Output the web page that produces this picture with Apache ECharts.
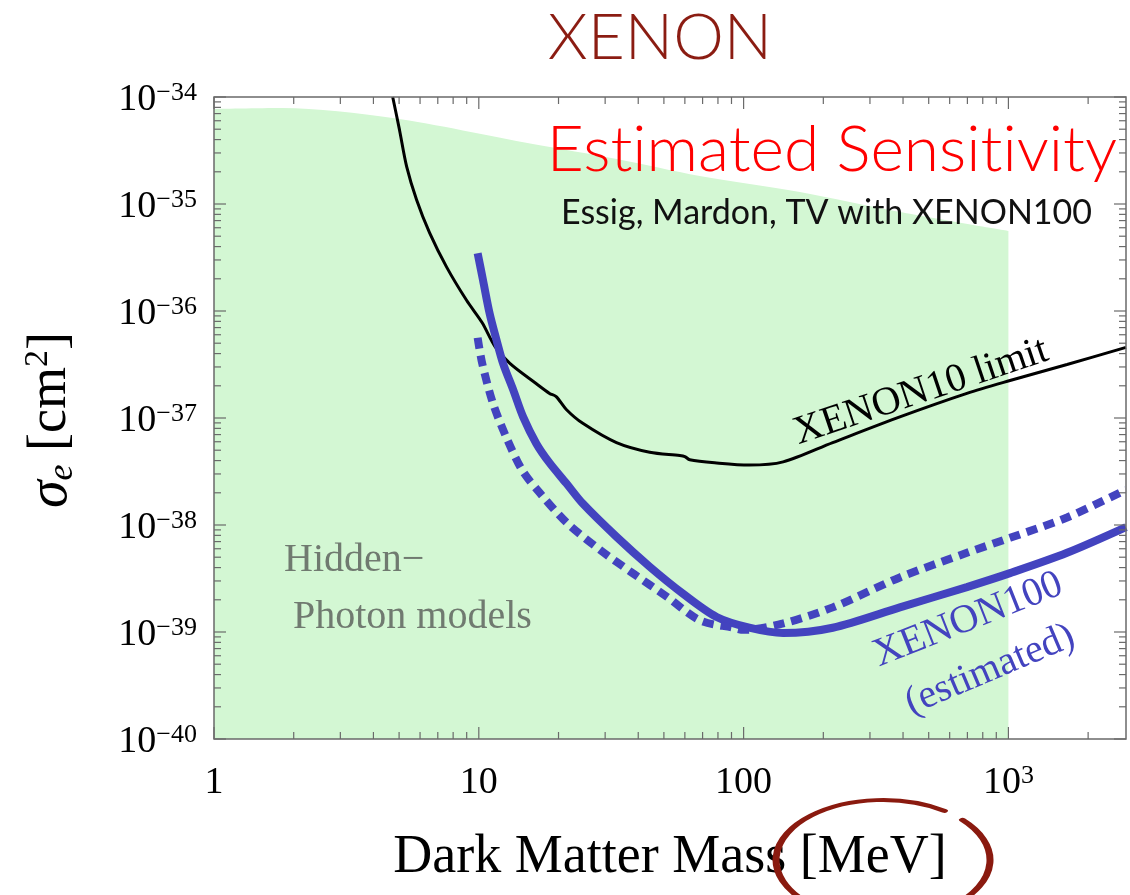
<!DOCTYPE html>
<html>
<head>
<meta charset="utf-8">
<script src="https://cdn.jsdelivr.net/npm/echarts@6.0.0/dist/echarts.min.js"></script>
<style>
  html, body { margin: 0; padding: 0; background: #ffffff; }
  #chart { width: 1130px; height: 895px; }
</style>
</head>
<body>
<div id="chart"></div>
<script>
// Axis ranges: dark-matter mass (MeV) and electron cross-section sigma_e (cm^2)
const massMin = 1;
const massMax = 2780;
const sigmaMin = 1e-40;
const sigmaMax = 1e-34;
// a hair of padding so the end decades survive floating-point log rounding
const sigmaAxisMin = 0.99999e-40;
const sigmaAxisMax = 1.00001e-34;

// Tick labels
const massTickValues = [1, 10, 100, 1000];
const massTickLabels = ['{n|1}', '{n|10}', '{n|100}', '{n|10}{s|3}'];
const sigmaTickExps = [-40, -39, -38, -37, -36, -35, -34];
const sigmaTickLabels = ['{n|10}{s|\u221240}', '{n|10}{s|\u221239}', '{n|10}{s|\u221238}',
  '{n|10}{s|\u221237}', '{n|10}{s|\u221236}', '{n|10}{s|\u221235}', '{n|10}{s|\u221234}'];

// Hidden-photon model region (upper edge), log10 of sigma_e
const hiddenMass = [1, 1.81, 4.73, 16.0, 33.2, 68.3, 163, 389, 1000];
const hiddenExp = [-34.112, -34.103, -34.196, -34.439, -34.579, -34.738, -34.888, -35.075, -35.252];

// XENON10 limit
const xenon10Mass = [4.73, 5.02, 5.34, 5.82, 6.52, 7.56, 8.99, 10.3, 11.5, 13.1, 16.5, 18.5, 19.6,
  21.4, 24.7, 33.1, 44.2, 57.4, 60, 62.6, 79.1, 105, 141, 217, 389, 697, 1014, 1665, 2780];
const xenon10Exp = [-34.00, -34.31, -34.65, -34.96, -35.27, -35.59, -35.90, -36.11, -36.33, -36.49,
  -36.68, -36.77, -36.80, -36.92, -37.05, -37.23, -37.32, -37.35, -37.36, -37.39, -37.42, -37.44,
  -37.41, -37.23, -36.99, -36.77, -36.65, -36.50, -36.34];

// XENON100 estimated sensitivity (solid)
const xenon100Mass = [9.9, 10.37, 10.98, 11.66, 12.35, 13.5, 14.7, 16.5, 18.5, 21.4, 24.7, 33.1,
  44.2, 58.9, 79.1, 105, 141, 217, 389, 697, 1014, 1665, 2780];
const xenon100Exp = [-35.46, -35.71, -36.02, -36.27, -36.49, -36.74, -36.99, -37.24, -37.42, -37.61,
  -37.80, -38.11, -38.39, -38.64, -38.86, -38.96, -39.01, -38.96, -38.77, -38.58, -38.45, -38.26, -38.02];

// XENON100 estimated sensitivity (dashed)
const xenon100bMass = [9.9, 10.3, 11.3, 12.7, 14.6, 17.0, 21.5, 28.6, 38.1, 51.3, 68.3, 91, 100,
  141, 217, 389, 697, 1014, 1665, 2780];
const xenon100bExp = [-36.25, -36.49, -36.86, -37.18, -37.49, -37.70, -37.98, -38.23, -38.45, -38.67,
  -38.89, -38.96, -38.98, -38.92, -38.77, -38.49, -38.26, -38.12, -37.93, -37.67];

const pairs = (xs, es) => xs.map((m, i) => [m, Math.pow(10, es[i])]);

const BLUE = '#4343bf';
const FRAME = '#6a6a6a';
const SERIF = '"Liberation Serif", "Times New Roman", serif';
const SANS = 'Lato, "Open Sans", sans-serif';
const DEG = Math.PI / 180;

// Log-axis tick marks (2..9 per decade) on all four sides plus the frame
const tickData = [];
for (let d = 0; d <= 3; d++) {
  for (let k = 1; k <= 9; k++) {
    const v = k * Math.pow(10, d);
    if (v <= massMax) tickData.push([v, sigmaMin, 0, k === 1 ? 1 : 0]);
  }
}
for (let d = -40; d < -34; d++) {
  for (let k = 1; k <= 9; k++) tickData.push([massMin, k * Math.pow(10, d), 1, k === 1 ? 1 : 0]);
}
tickData.push([massMin, sigmaMax, 1, 1]);
tickData.push([massMin, sigmaMin, 2, 0]);

function renderTicks(params, api) {
  const cs = params.coordSys;
  const kind = api.value(2);
  const len = api.value(3) ? 12 : 7;
  const st = { stroke: FRAME, lineWidth: 1.2 };
  if (kind === 2) {
    return { type: 'rect', shape: { x: cs.x, y: cs.y, width: cs.width, height: cs.height },
      style: { stroke: FRAME, lineWidth: 1.5, fill: 'none' } };
  }
  const p = api.coord([api.value(0), api.value(1)]);
  if (kind === 0) {
    return { type: 'group', children: [
      { type: 'line', shape: { x1: p[0], y1: cs.y + cs.height, x2: p[0], y2: cs.y + cs.height - len }, style: st },
      { type: 'line', shape: { x1: p[0], y1: cs.y, x2: p[0], y2: cs.y + len }, style: st }
    ] };
  }
  return { type: 'group', children: [
    { type: 'line', shape: { x1: cs.x, y1: p[1], x2: cs.x + len, y2: p[1] }, style: st },
    { type: 'line', shape: { x1: cs.x + cs.width, y1: p[1], x2: cs.x + cs.width - len, y2: p[1] }, style: st }
  ] };
}

function nearLog(v, t) { return Math.abs(Math.log10(v) - Math.log10(t)) < 1e-4; }

const chart = echarts.init(document.getElementById('chart'), null, { renderer: 'canvas' });

chart.setOption({
  animation: false,
  backgroundColor: '#ffffff',
  grid: { left: 214, right: 4, top: 97, bottom: 156, containLabel: false, outerBoundsMode: 'none' },
  xAxis: {
    type: 'log', logBase: 10, min: massMin, max: massMax,
    axisLine: { show: false }, axisTick: { show: false }, splitLine: { show: false },
    axisLabel: {
      margin: 24, hideOverlap: false, showMinLabel: true, showMaxLabel: true,
      formatter: v => { const i = massTickValues.findIndex(t => nearLog(v, t)); return i < 0 ? '' : massTickLabels[i]; },
      rich: {
        n: { fontFamily: SERIF, fontSize: 38, lineHeight: 40, color: '#000' },
        s: { fontFamily: SERIF, fontSize: 26, lineHeight: 24, verticalAlign: 'top', color: '#000' }
      }
    },
    name: 'Dark Matter Mass [MeV]', nameLocation: 'middle', nameGap: 92,
    nameTextStyle: { fontFamily: SERIF, fontSize: 54, color: '#000' }
  },
  yAxis: {
    type: 'log', logBase: 10, min: sigmaAxisMin, max: sigmaAxisMax,
    axisLine: { show: false }, axisTick: { show: false }, splitLine: { show: false },
    axisLabel: {
      margin: 17, hideOverlap: false, showMinLabel: true, showMaxLabel: true, padding: [6, 0, 0, 0],
      formatter: v => { const i = sigmaTickExps.findIndex(e => Math.abs(Math.log10(v) - e) < 1e-4); return i < 0 ? '' : sigmaTickLabels[i]; },
      rich: {
        n: { fontFamily: SERIF, fontSize: 38, lineHeight: 40, color: '#000' },
        s: { fontFamily: SERIF, fontSize: 26, lineHeight: 24, verticalAlign: 'top', color: '#000' }
      }
    }
  },
  series: [
    {
      name: 'Hidden-Photon models', type: 'line', data: pairs(hiddenMass, hiddenExp),
      smooth: 0.3, symbol: 'none', lineStyle: { width: 0 },
      areaStyle: { color: '#d3f7d3', opacity: 1, origin: sigmaAxisMin }, z: 1
    },
    {
      name: 'XENON10 limit', type: 'line', data: pairs(xenon10Mass, xenon10Exp),
      smooth: 0.3, symbol: 'none', lineStyle: { color: '#000', width: 3 }, z: 3
    },
    {
      name: 'XENON100 (estimated)', type: 'line', data: pairs(xenon100Mass, xenon100Exp),
      smooth: 0.3, symbol: 'none', lineStyle: { color: BLUE, width: 8, cap: 'butt' }, z: 4
    },
    {
      name: 'XENON100 (estimated, alt.)', type: 'line', data: pairs(xenon100bMass, xenon100bExp),
      smooth: 0.3, symbol: 'none', lineStyle: { color: BLUE, width: 8, type: [11, 7], cap: 'butt' }, z: 4
    },
    {
      name: 'frame', type: 'custom', data: tickData, renderItem: renderTicks,
      encode: { x: 0, y: 1 }, z: 10, silent: true
    }
  ],
  graphic: [
    { type: 'text', x: 660, y: 38, silent: true,
      style: { text: 'XENON', fill: '#8b1c12', font: '300 64px ' + SANS,
        textAlign: 'center', align: 'center', textVerticalAlign: 'middle', verticalAlign: 'middle' } },
    { type: 'text', x: 1117, y: 150, silent: true, z: 20,
      style: { text: 'Est\u200Cimated Sensit\u200Civity', fill: '#ff0000', font: '300 64px ' + SANS,
        textAlign: 'right', align: 'right', textVerticalAlign: 'middle', verticalAlign: 'middle' } },
    { type: 'text', x: 1092, y: 213, silent: true, z: 20,
      style: { text: 'Essig, Mardon, TV with XENON100', fill: '#111111', font: '400 34px ' + SANS,
        textAlign: 'right', align: 'right', textVerticalAlign: 'middle', verticalAlign: 'middle' } },
    { type: 'text', x: 284, y: 560, silent: true, z: 20,
      style: { text: 'Hidden\u2212', fill: '#707a70', font: '40px ' + SERIF,
        textAlign: 'left', align: 'left', textVerticalAlign: 'middle', verticalAlign: 'middle' } },
    { type: 'text', x: 293, y: 617, silent: true, z: 20,
      style: { text: 'Photon models', fill: '#707a70', font: '40px ' + SERIF,
        textAlign: 'left', align: 'left', textVerticalAlign: 'middle', verticalAlign: 'middle' } },
    { type: 'text', x: 921, y: 392, rotation: 0.325, silent: true, z: 20,
      style: { text: 'XENON10 limit', fill: '#000000', font: '40px ' + SERIF,
        textAlign: 'center', align: 'center', textVerticalAlign: 'middle', verticalAlign: 'middle' } },
    { type: 'text', x: 968, y: 620, rotation: 0.377, silent: true, z: 20,
      style: { text: 'XENON100', fill: BLUE, font: '40px ' + SERIF,
        textAlign: 'center', align: 'center', textVerticalAlign: 'middle', verticalAlign: 'middle' } },
    { type: 'text', x: 990, y: 670, rotation: 0.40, silent: true, z: 20,
      style: { text: '(estimated)', fill: BLUE, font: '40px ' + SERIF,
        textAlign: 'center', align: 'center', textVerticalAlign: 'middle', verticalAlign: 'middle' } },
    { type: 'text', x: 51, y: 420, rotation: Math.PI / 2, silent: true, z: 20,
      style: {
        text: '{a|\u03c3}{b|e}{c| [cm}{d|2}{c|]}',
        textAlign: 'center', align: 'center', textVerticalAlign: 'middle', verticalAlign: 'middle',
        rich: {
          a: { fontFamily: SERIF, fontStyle: 'italic', fontSize: 56, lineHeight: 60, fill: '#000', color: '#000' },
          b: { fontFamily: SERIF, fontStyle: 'italic', fontSize: 36, lineHeight: 30, verticalAlign: 'bottom', fill: '#000', color: '#000' },
          c: { fontFamily: SERIF, fontSize: 54, lineHeight: 60, fill: '#000', color: '#000' },
          d: { fontFamily: SERIF, fontSize: 34, lineHeight: 30, verticalAlign: 'top', fill: '#000', color: '#000' }
        }
      } },
    // hand-drawn ring around the unit, open at the upper right
    { type: 'arc', x: 883, y: 860, scaleY: 60 / 107, silent: true, z: 20,
      shape: { cx: 0, cy: 0, r: 107, startAngle: -42 * DEG, endAngle: 305 * DEG, clockwise: true },
      style: { stroke: '#8a1a0f', lineWidth: 7, fill: 'none', lineCap: 'round', strokeNoScale: true } }
  ]
});
</script>
</body>
</html>
